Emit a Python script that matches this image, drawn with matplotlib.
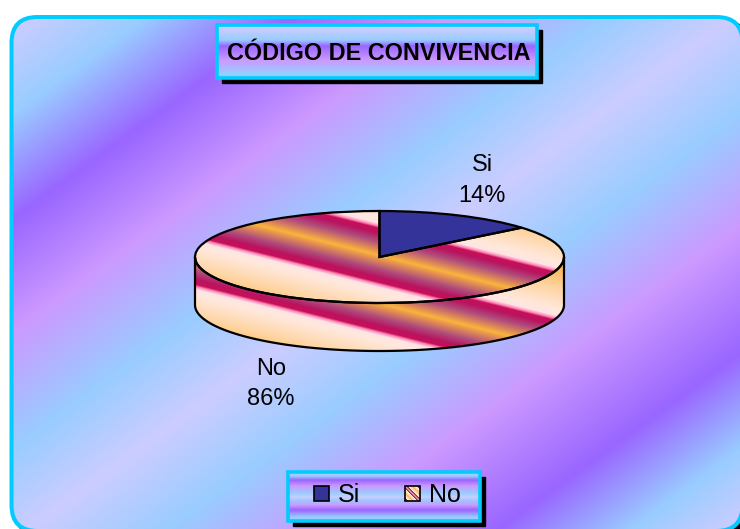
import numpy as np
import matplotlib
matplotlib.use("Agg")
import matplotlib.pyplot as plt
from matplotlib.patches import FancyBboxPatch, Rectangle, Polygon

plt.rcParams['font.family'] = ['Liberation Sans', 'DejaVu Sans']

# chart data
labels = ['Si', 'No']
values = [14, 86]
chart_title = 'CÓDIGO DE CONVIVENCIA'

W, H = 740, 529
DEPTH = 48  # pie thickness in pixels

LAV = (204, 204, 255)
SKY = (153, 204, 255)
PURPLE = (153, 102, 255)
PINK = (204, 153, 255)


def ramp(t, stops, colors):
    # piecewise colour ramp, returns rgb array in 0-1
    colors = np.array(colors) / 255.0
    return np.dstack([np.interp(t, stops, colors[:, i]) for i in range(3)])


fig = plt.figure(figsize=(W / 100, H / 100), dpi=100)
ax = fig.add_axes([0, 0, 1, 1])
ax.set_xlim(0, W)
ax.set_ylim(H, 0)
ax.axis('off')

# chart area: shadow, cyan border as a filled box, background bands clipped to the inside
ax.add_patch(FancyBboxPatch((14, 19), 735, 518, boxstyle='round,pad=0,rounding_size=28',
                            fc='black', ec='none', zorder=0.5))
ax.add_patch(FancyBboxPatch((9.5, 15), 735, 518, boxstyle='round,pad=0,rounding_size=28',
                            fc='#00ccff', ec='none', zorder=0.6))
inner = FancyBboxPatch((13.5, 19), 727, 510, boxstyle='round,pad=0,rounding_size=24',
                       fc='none', ec='none', zorder=0.7)
ax.add_patch(inner)
xx, yy = np.meshgrid(np.arange(W) + 0.5, np.arange(H) + 0.5)
t = 0.588 * xx + 0.809 * yy
bg_stops = [28, 100, 185, 275, 370, 445, 528, 620, 721, 799, 860]
bg_cols = [LAV, SKY, PURPLE, PINK, SKY, LAV, SKY, PINK, PURPLE, SKY, LAV]
bg = ax.imshow(ramp(t, bg_stops, bg_cols), extent=(0, W, H, 0), aspect='auto', zorder=1)
bg.set_clip_path(inner)


def gradient_box(x0, y0, x1, y1, stops, colors):
    # box with horizontal bands, black drop shadow and cyan border
    ax.add_patch(Rectangle((x0 + 5, y0 + 5), x1 - x0, y1 - y0, fc='black', ec='black', lw=1, zorder=3))
    ys = np.arange(y0, y1) + 0.5
    img = ramp(ys[:, None], stops, colors)
    ax.imshow(img, extent=(x0, x1, y1, y0), aspect='auto', zorder=4)
    ax.add_patch(Rectangle((x0, y0), x1 - x0, y1 - y0, fc='none', ec='#00ccff', lw=2.6, zorder=5))


gradient_box(217, 25, 537, 78, [28, 40, 46, 60, 73], [LAV, SKY, PURPLE, PINK, SKY])
ax.text(379, 53, chart_title, fontsize=16.8, fontweight='bold', ha='center', va='center', zorder=6)

gradient_box(288, 472, 480, 521, [472, 476, 480, 486, 493, 497, 500, 505, 510, 517],
             [LAV, SKY, PURPLE, PINK, SKY, LAV, SKY, PINK, PURPLE, SKY])
ax.set_xlim(0, W)
ax.set_ylim(H, 0)

# pie axes covers the top ellipse plus the wall under it
box_x0, box_x1, box_y0, box_y1 = 195, 564, 211, 303 + DEPTH
RY = (303 - 211) / 2
pax = fig.add_axes([box_x0 / W, 1 - box_y1 / H, (box_x1 - box_x0) / W, (box_y1 - box_y0) / H], zorder=3)
wedges, _ = pax.pie(values, startangle=90, counterclock=False,
                    wedgeprops=dict(ec='black', lw=1.6), normalize=True)
wedges[0].set_facecolor('#333399')
wedges[1].set_facecolor('none')
wedges[0].set_zorder(4)
wedges[1].set_zorder(4)


def stripes(u):
    # u is the distance across the stripes, s is the distance from the orange centre line
    s = np.abs((u - 160.5 + 80) % 160 - 80)
    return ramp(s, [0, 5, 14, 22, 27, 29, 32, 38, 50, 60, 80],
                [(250, 180, 60), (225, 140, 85), (175, 75, 125), (185, 20, 95), (200, 15, 90),
                 (255, 130, 180), (255, 228, 228), (255, 232, 220), (255, 222, 190), (254, 212, 160),
                 (250, 185, 90)])


lim_bottom = -1 - DEPTH / RY
gx, gy = np.meshgrid(np.arange(box_x0, box_x1) + 0.5, np.arange(box_y0, box_y1) + 0.5)
top_img = pax.imshow(stripes(gy - 0.25 * gx), extent=(-1, 1, lim_bottom, 1), aspect='auto', zorder=2)
top_img.set_clip_path(wedges[1])

# side wall, lower half of the ellipse pushed down by the depth
ang = np.linspace(np.pi, 2 * np.pi, 200)
d = DEPTH / RY
wall_pts = np.vstack([np.c_[np.cos(ang), np.sin(ang)], np.c_[np.cos(ang[::-1]), np.sin(ang[::-1]) - d]])
wall = Polygon(wall_pts, closed=True, fc='none', ec='black', lw=1.6, zorder=3)
pax.add_patch(wall)
wall_img = pax.imshow(stripes(gy - DEPTH - 0.25 * gx), extent=(-1, 1, lim_bottom, 1), aspect='auto', zorder=1)
wall_img.set_clip_path(wall)

pax.set_aspect('auto')
pax.set_xlim(-1, 1)
pax.set_ylim(lim_bottom, 1)
pax.axis('off')
for w in wedges:
    w.set_clip_on(False)
wall.set_clip_on(False)

# data labels
ax.text(482, 180.5, f'{labels[0]}\n{values[0]}%', fontsize=17, ha='center', va='center', linespacing=1.5, zorder=6)
ax.text(271, 384, f'{labels[1]}\n{values[1]}%', fontsize=17, ha='center', va='center', linespacing=1.5, zorder=6)

# legend, drawn by hand because of the striped swatch
ax.add_patch(Rectangle((314, 486), 15, 15, fc='#333399', ec='black', lw=1.2, zorder=6))
ax.text(338, 494.5, labels[0], fontsize=18, va='center', zorder=6)
sx, sy = np.meshgrid(np.linspace(0, 160, 15), np.linspace(0, 160, 15))
ax.imshow(stripes(160 + sy - sx), extent=(405, 420, 501, 486), aspect='auto', zorder=6)
ax.add_patch(Rectangle((405, 486), 15, 15, fc='none', ec='black', lw=1.2, zorder=7))
ax.text(429, 494.5, labels[1], fontsize=18, va='center', zorder=6)
ax.set_xlim(0, W)
ax.set_ylim(H, 0)

fig.savefig('out.png', dpi=100, facecolor='white')
